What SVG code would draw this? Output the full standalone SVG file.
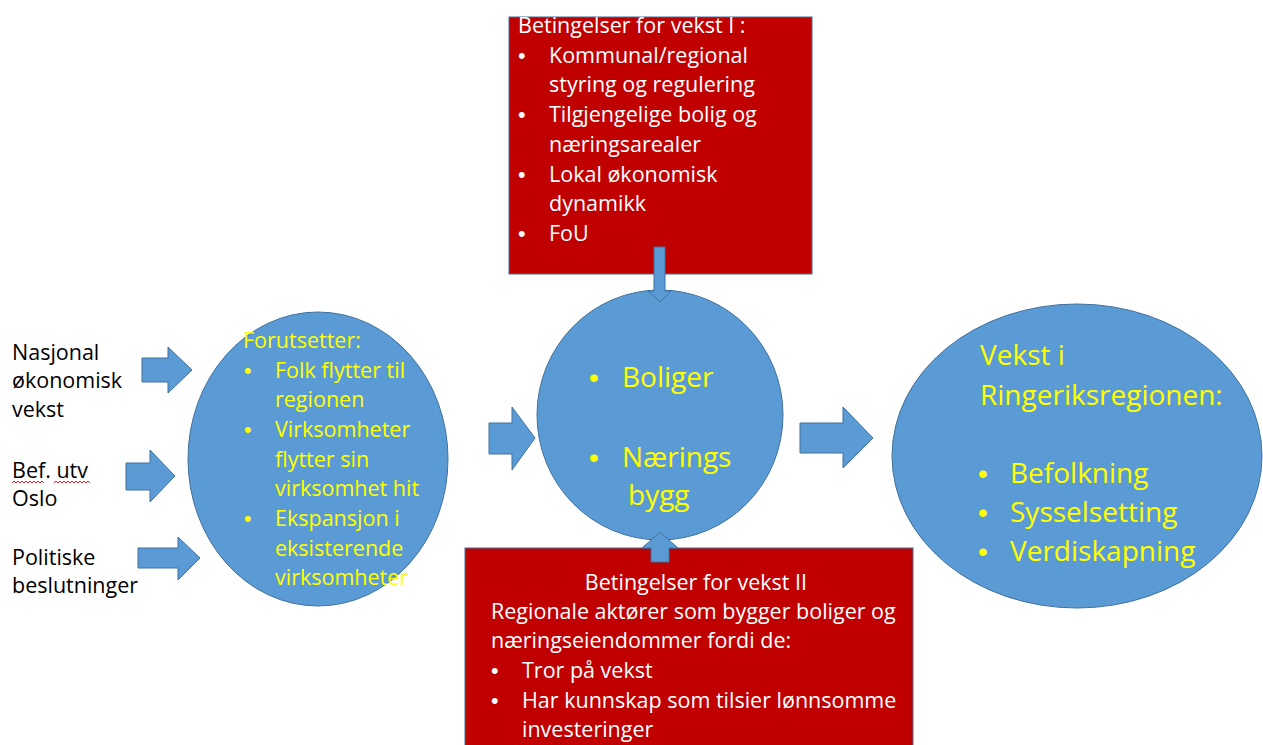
<svg xmlns="http://www.w3.org/2000/svg" width="1263" height="745" viewBox="0 0 1263 745">
<style>
.shape{fill:#5B9BD5;stroke:#41719C;stroke-width:1}
.box{fill:#C00000;stroke:#41719C;stroke-width:1}
text{font-family:"Open Sans","Liberation Sans",sans-serif;font-size:21.5px}
.b{font-family:"Liberation Sans",Arial,sans-serif}
.w{fill:#FFFFFF}
.y{fill:#FFFF00}
.k{fill:#000000}
.big{font-size:28px}
.sq{fill:none;stroke:#E02020;stroke-width:1}
</style>
<rect width="1263" height="745" fill="#FFFFFF"/>

<g id="node-top-conditions">
<rect class="box" x="509" y="17" width="303" height="257"/>
<text class="w" x="518" y="33">Betingelser for vekst I :</text>
<text class="w b" x="518" y="63">•</text><text class="w" x="549" y="63">Kommunal/regional</text>
<text class="w" x="549" y="92">styring og regulering</text>
<text class="w b" x="518" y="122">•</text><text class="w" x="549" y="122">Tilgjengelige bolig og</text>
<text class="w" x="549" y="152">næringsarealer</text>
<text class="w b" x="518" y="182">•</text><text class="w" x="549" y="182">Lokal økonomisk</text>
<text class="w" x="549" y="211">dynamikk</text>
<text class="w b" x="518" y="241">•</text><text class="w" x="549" y="241">FoU</text>
</g>

<g id="node-bottom-conditions">
<rect class="box" x="465" y="548" width="448" height="205"/>
<text class="w" x="696" y="590" text-anchor="middle">Betingelser for vekst II</text>
<text class="w" x="491" y="619">Regionale aktører som bygger boliger og</text>
<text class="w" x="491" y="648">næringseiendommer fordi de:</text>
<text class="w b" x="491" y="678">•</text><text class="w" x="522" y="678">Tror på vekst</text>
<text class="w b" x="491" y="708">•</text><text class="w" x="522" y="708">Har kunnskap som tilsier lønnsomme</text>
<text class="w" x="522" y="737">investeringer</text>
</g>

<g id="node-inputs">
<text class="k" x="12" y="360">Nasjonal</text>
<text class="k" x="12" y="388">økonomisk</text>
<text class="k" x="12" y="417">vekst</text>
<text class="k" x="12" y="478">Bef. utv</text>
<path class="sq" d="M12 483 l2 -2 l2 2 l2 -2 l2 2 l2 -2 l2 2 l2 -2 l2 2 l2 -2 l2 2 l2 -2 l2 2 l2 -2 l2 2 l2 -2 l2 2"/>
<path class="sq" d="M54 483 l2 -2 l2 2 l2 -2 l2 2 l2 -2 l2 2 l2 -2 l2 2 l2 -2 l2 2 l2 -2 l2 2 l2 -2 l2 2 l2 -2 l2 2 l2 -2 l2 2"/>
<text class="k" x="12" y="506">Oslo</text>
<text class="k" x="12" y="565">Politiske</text>
<text class="k" x="12" y="593">beslutninger</text>
</g>

<g id="node-prerequisites">
<ellipse class="shape" cx="318" cy="459" rx="130" ry="147"/>
<text class="y" x="243" y="348">Forutsetter:</text>
<text class="y b" x="244" y="378">•</text><text class="y" x="275" y="378">Folk flytter til</text>
<text class="y" x="275" y="407">regionen</text>
<text class="y b" x="244" y="437">•</text><text class="y" x="275" y="437">Virksomheter</text>
<text class="y" x="275" y="467">flytter sin</text>
<text class="y" x="275" y="496">virksomhet hit</text>
<text class="y b" x="244" y="526">•</text><text class="y" x="275" y="526">Ekspansjon i</text>
<text class="y" x="275" y="556">eksisterende</text>
<text class="y" x="275" y="585">virksomheter</text>
</g>

<g id="node-buildings">
<ellipse class="shape" cx="660" cy="415" rx="123" ry="125"/>
<text class="y big b" x="589" y="387">•</text><text class="y big" x="622" y="387">Boliger</text>
<text class="y big b" x="589" y="467">•</text><text class="y big" x="622" y="467">Nærings</text>
<text class="y big" x="628" y="505">bygg</text>
</g>

<g id="node-growth">
<ellipse class="shape" cx="1077" cy="456" rx="185" ry="152"/>
<text class="y big" x="980" y="365">Vekst i</text>
<text class="y big" x="980" y="405">Ringeriksregionen:</text>
<text class="y big b" x="978" y="483">•</text><text class="y big" x="1010" y="483">Befolkning</text>
<text class="y big b" x="978" y="522">•</text><text class="y big" x="1010" y="522">Sysselsetting</text>
<text class="y big b" x="978" y="561">•</text><text class="y big" x="1010" y="561">Verdiskapning</text>
</g>

<g id="connectors">
<polygon class="shape" points="142,358 168,358 168,347 192,370 168,393 168,382 142,382"/>
<polygon class="shape" points="126,463 150,463 150,450 175,476 150,502 150,490 126,490"/>
<polygon class="shape" points="138,548 178,548 178,537 200,558 178,580 178,568 138,568"/>
<polygon class="shape" points="489,423 512,423 512,407 535,438 512,470 512,454 489,454"/>
<polygon class="shape" points="800,423 843,423 843,407 873,438 843,468 843,453 800,453"/>
<polygon class="shape" points="654,247 665,247 665,291 671,291 660,302 648,291 654,291"/>
<polygon class="shape" points="651,562 669,562 669,548 678,548 660,532 642,548 651,548"/>
</g>
</svg>
